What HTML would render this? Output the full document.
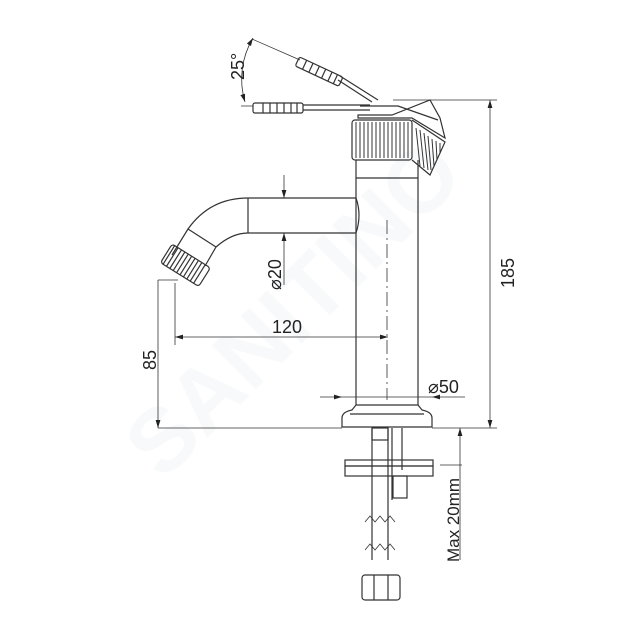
<!DOCTYPE html>
<html><head><style>body{margin:0;background:#fff}svg{display:block}text{font-family:"Liberation Sans",sans-serif;fill:#222}</style></head><body>
<svg width="630" height="630" viewBox="0 0 630 630" xmlns="http://www.w3.org/2000/svg">
<defs><marker id="a" viewBox="0 0 10 6" refX="10" refY="3" markerWidth="10" markerHeight="6" orient="auto-start-reverse"><path d="M0,0L10,3L0,6z" fill="#222"/></marker></defs>
<text x="315" y="330" font-size="90" style="fill:#f8f9fa" transform="rotate(-45 315 330)" text-anchor="middle" font-weight="bold">SANITINO</text>
<g fill="none" stroke="#333" stroke-width="1.2">
<path d="M356 178V405M418 178V405M356 178H418"/>
<path d="M342 427L342 418Q342 412 352 410L356 405H418L422 410Q432 412 432 418V427Z"/>
<path d="M350 414H424"/>
<path d="M356 160V178M418 160V178"/>
<rect x="352" y="120" width="60" height="40" rx="3"/>
<path d="M412 120L445 142L430 175L412 160"/>
<g stroke-width="1">
<path d="M356 122V158M360 122V158M364 122V158M368 122V158M372 122V158M376 122V158M380 122V158M384 122V158M388 122V158M392 122V158M396 122V158M400 122V158M404 122V158M408 122V158"/>
<path d="M416 128L420 166M420 130L424 168M424 133L428 170M428 136L431 170M432 139L434 166M436 141L437 160M440 143L440 154"/>
</g>
<path d="M358 115H392L430 100L440 118L445 138L412 118H358Z"/>
<path d="M360 106H398L438 120"/>
<path d="M303 105H370M303 110H370"/>
<rect x="253" y="103" width="50" height="10" rx="2"/>
<path d="M263 103V113M270 103V113M277 103V113M284 103V113M291 103V113M297 103V113"/>
<path d="M340 76L378 100M338 80L372 102"/>
<g transform="rotate(25 320 72)"><rect x="295" y="67" width="48" height="10" rx="2"/><path d="M303 67V77M310 67V77M317 67V77M324 67V77M331 67V77M337 67V77"/></g>
<path d="M356 198Q362 215 356 233"/>
<path d="M248 198H356M248 233H356M248 198V233"/>
<path d="M248 198Q210 198 188 229L172 255"/>
<path d="M248 233Q232 233 216 247L205 266"/>
<path d="M188 229L216 247"/>
<g transform="rotate(32 185 265)"><rect x="163" y="254" width="45" height="22" rx="3"/><path d="M166 254V276M170 254V276M174 254V276M178 254V276M182 254V276M186 254V276M190 254V276M194 254V276M198 254V276M202 254V276"/></g>
<path d="M372 428V560M388 428V560M392 428V500M402 428V470"/>
<rect x="372" y="428" width="16" height="12"/>
<rect x="345" y="460" width="88" height="6"/>
<rect x="345" y="466" width="88" height="10"/>
<rect x="393" y="476" width="14" height="22"/>
<path d="M365 522l5-6 5 6 5-6 5 6 5-6 5 6M365 550l5-6 5 6 5-6 5 6 5-6 5 6" stroke-width="0.8"/>
<rect x="362" y="575" width="38" height="25" rx="3"/>
<path d="M374 575V600M388 575V600"/>
</g>
<g fill="none" stroke="#333" stroke-width="0.8">
<path d="M393 100H497M432 428H497M158 428H342"/>
<path d="M490 100V428" marker-start="url(#a)" marker-end="url(#a)"/>
<path d="M158 280V428" marker-end="url(#a)"/>
<path d="M158 280H178M175 283V345"/>
<path d="M175 337H388" marker-start="url(#a)" marker-end="url(#a)"/>
<path d="M387 220V400" stroke-dasharray="14 4 2 4"/>
<path d="M284 175V198" marker-end="url(#a)"/><path d="M284 285V233" marker-end="url(#a)"/>
<path d="M320 397H342" marker-end="url(#a)"/><path d="M465 397H432" marker-end="url(#a)"/><path d="M342 397H432"/>
<path d="M460 428V465" marker-start="url(#a)"/><path d="M440 465H462M460 465V560"/>
<path d="M241 106H253M252 39L300 60"/>
<path d="M253 38A80 80 0 0 0 245 102" marker-start="url(#a)" marker-end="url(#a)"/>
</g>
<text x="0" y="0" font-size="18" transform="translate(244 80) rotate(-90)">25°</text>
<text x="0" y="0" font-size="18" transform="translate(514 288) rotate(-90)">185</text>
<text x="0" y="0" font-size="18" transform="translate(281 290) rotate(-90)">⌀20</text>
<text x="272" y="333" font-size="18">120</text>
<text x="0" y="0" font-size="18" transform="translate(156 370) rotate(-90)">85</text>
<text x="428" y="393" font-size="18">⌀50</text>
<text x="0" y="0" font-size="17" transform="translate(459 562) rotate(-90)">Max 20mm</text>
</svg>
</body></html>
